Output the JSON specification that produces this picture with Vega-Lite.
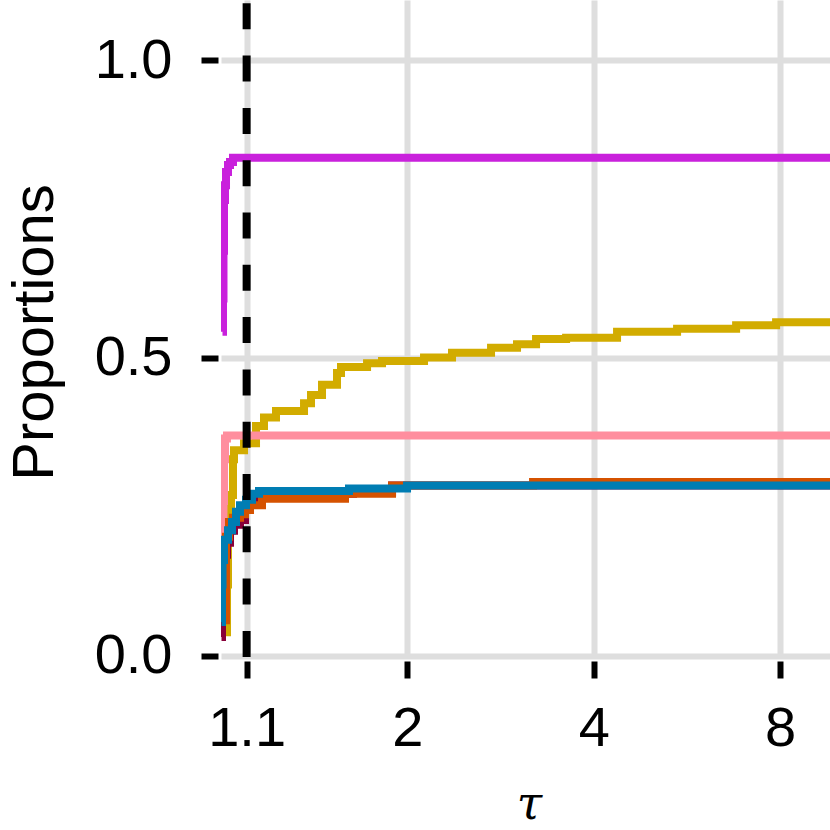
{
  "$schema": "https://vega.github.io/schema/vega-lite/v6.json",
  "width": 609,
  "height": 658,
  "autosize": {"type": "none"},
  "padding": {"left": 221, "top": 0, "right": 0, "bottom": 172},
  "background": "white",
  "config": {
    "view": {"stroke": null},
    "axis": {
      "domain": false,
      "gridColor": "#DEDEDE",
      "gridWidth": 6,
      "tickColor": "black",
      "tickWidth": 6,
      "tickSize": 17,
      "tickCap": "butt",
      "labelFont": "Liberation Sans",
      "labelFontSize": 56,
      "labelColor": "black",
      "titleColor": "black",
      "titleFontWeight": "normal"
    }
  },
  "datasets": {
    "profiles": [
      {"solver": "M", "tau": 1.0056, "prop": 0.544},
      {"solver": "M", "tau": 1.0075, "prop": 0.60},
      {"solver": "M", "tau": 1.0093, "prop": 0.68},
      {"solver": "M", "tau": 1.0112, "prop": 0.765},
      {"solver": "M", "tau": 1.0150, "prop": 0.79},
      {"solver": "M", "tau": 1.0188, "prop": 0.812},
      {"solver": "M", "tau": 1.0264, "prop": 0.824},
      {"solver": "M", "tau": 1.0341, "prop": 0.829},
      {"solver": "M", "tau": 1.0456, "prop": 0.836},
      {"solver": "M", "tau": 10, "prop": 0.836},
      {"solver": "G", "tau": 1.0188, "prop": 0.04},
      {"solver": "G", "tau": 1.0226, "prop": 0.12},
      {"solver": "G", "tau": 1.0264, "prop": 0.20},
      {"solver": "G", "tau": 1.0302, "prop": 0.24},
      {"solver": "G", "tau": 1.0379, "prop": 0.27},
      {"solver": "G", "tau": 1.0456, "prop": 0.33},
      {"solver": "G", "tau": 1.0495, "prop": 0.345},
      {"solver": "G", "tau": 1.0894, "prop": 0.357},
      {"solver": "G", "tau": 1.1391, "prop": 0.386},
      {"solver": "G", "tau": 1.1734, "prop": 0.400},
      {"solver": "G", "tau": 1.2270, "prop": 0.411},
      {"solver": "G", "tau": 1.3618, "prop": 0.424},
      {"solver": "G", "tau": 1.3976, "prop": 0.438},
      {"solver": "G", "tau": 1.4560, "prop": 0.455},
      {"solver": "G", "tau": 1.5395, "prop": 0.475},
      {"solver": "G", "tau": 1.5625, "prop": 0.485},
      {"solver": "G", "tau": 1.7215, "prop": 0.491},
      {"solver": "G", "tau": 1.8201, "prop": 0.495},
      {"solver": "G", "tau": 2.1278, "prop": 0.501},
      {"solver": "G", "tau": 2.3612, "prop": 0.509},
      {"solver": "G", "tau": 2.730, "prop": 0.517},
      {"solver": "G", "tau": 3.007, "prop": 0.523},
      {"solver": "G", "tau": 3.2274, "prop": 0.532},
      {"solver": "G", "tau": 3.609, "prop": 0.534},
      {"solver": "G", "tau": 4.362, "prop": 0.544},
      {"solver": "G", "tau": 5.453, "prop": 0.549},
      {"solver": "G", "tau": 6.792, "prop": 0.555},
      {"solver": "G", "tau": 7.881, "prop": 0.560},
      {"solver": "G", "tau": 10, "prop": 0.560},
      {"solver": "P", "tau": 1.0075, "prop": 0.17},
      {"solver": "P", "tau": 1.0093, "prop": 0.26},
      {"solver": "P", "tau": 1.0112, "prop": 0.33},
      {"solver": "P", "tau": 1.0150, "prop": 0.365},
      {"solver": "P", "tau": 1.0226, "prop": 0.370},
      {"solver": "P", "tau": 10, "prop": 0.370},
      {"solver": "R", "tau": 1.0019, "prop": 0.032},
      {"solver": "R", "tau": 1.0037, "prop": 0.10},
      {"solver": "R", "tau": 1.0075, "prop": 0.15},
      {"solver": "R", "tau": 1.0150, "prop": 0.17},
      {"solver": "R", "tau": 1.0226, "prop": 0.19},
      {"solver": "R", "tau": 1.0341, "prop": 0.21},
      {"solver": "R", "tau": 1.0495, "prop": 0.22},
      {"solver": "R", "tau": 1.0732, "prop": 0.228},
      {"solver": "R", "tau": 1.0934, "prop": 0.245},
      {"solver": "R", "tau": 1.1139, "prop": 0.262},
      {"solver": "R", "tau": 1.1348, "prop": 0.268},
      {"solver": "R", "tau": 1.1777, "prop": 0.272},
      {"solver": "R", "tau": 1.6338, "prop": 0.275},
      {"solver": "R", "tau": 1.8891, "prop": 0.286},
      {"solver": "R", "tau": 10, "prop": 0.286},
      {"solver": "O", "tau": 1.0075, "prop": 0.06},
      {"solver": "O", "tau": 1.0188, "prop": 0.20},
      {"solver": "O", "tau": 1.0302, "prop": 0.225},
      {"solver": "O", "tau": 1.0456, "prop": 0.232},
      {"solver": "O", "tau": 1.0732, "prop": 0.238},
      {"solver": "O", "tau": 1.0934, "prop": 0.245},
      {"solver": "O", "tau": 1.1139, "prop": 0.253},
      {"solver": "O", "tau": 1.1647, "prop": 0.264},
      {"solver": "O", "tau": 1.5859, "prop": 0.272},
      {"solver": "O", "tau": 1.8891, "prop": 0.286},
      {"solver": "O", "tau": 3.1917, "prop": 0.292},
      {"solver": "O", "tau": 10, "prop": 0.292},
      {"solver": "B", "tau": 1.0019, "prop": 0.057},
      {"solver": "B", "tau": 1.0037, "prop": 0.12},
      {"solver": "B", "tau": 1.0056, "prop": 0.161},
      {"solver": "B", "tau": 1.0112, "prop": 0.195},
      {"solver": "B", "tau": 1.0264, "prop": 0.211},
      {"solver": "B", "tau": 1.0418, "prop": 0.225},
      {"solver": "B", "tau": 1.0574, "prop": 0.242},
      {"solver": "B", "tau": 1.0732, "prop": 0.253},
      {"solver": "B", "tau": 1.0975, "prop": 0.262},
      {"solver": "B", "tau": 1.1222, "prop": 0.272},
      {"solver": "B", "tau": 1.1518, "prop": 0.277},
      {"solver": "B", "tau": 1.6097, "prop": 0.281},
      {"solver": "B", "tau": 1.9974, "prop": 0.286},
      {"solver": "B", "tau": 10, "prop": 0.286}
    ],
    "threshold": [{"tau": 1.1}]
  },
  "layer": [
    {
      "data": {"name": "profiles"},
      "mark": {"type": "line", "interpolate": "step-after", "strokeWidth": 8, "strokeCap": "butt", "clip": true},
      "encoding": {
        "x": {
          "field": "tau",
          "type": "quantitative",
          "scale": {"type": "log", "base": 2, "domain": [1, 9.63], "nice": false},
          "axis": {
            "values": [1.1, 2, 4, 8],
            "format": "~g",
            "offset": 3,
            "labelPadding": 23,
            "title": "τ",
            "titleFont": "DejaVu Serif",
            "titleFontStyle": "italic",
            "titleFontSize": 46,
            "titleBaseline": "alphabetic",
            "titleX": 308,
            "titleY": 157
          }
        },
        "y": {
          "field": "prop",
          "type": "quantitative",
          "scale": {"domain": [-0.0034, 1.1007], "nice": false, "zero": false},
          "axis": {
            "values": [0, 0.5, 1],
            "format": ".1f",
            "offset": 3,
            "labelPadding": 29,
            "title": "Proportions",
            "titleFont": "Liberation Sans",
            "titleFontSize": 58,
            "titleAngle": 270,
            "titleBaseline": "alphabetic",
            "titleAlign": "center",
            "titleX": -166,
            "titleY": 332
          }
        },
        "color": {
          "field": "solver",
          "type": "nominal",
          "scale": {
            "domain": ["M", "G", "P", "R", "O", "B"],
            "range": ["#C921DC", "#D2AC00", "#FF8E9E", "#880039", "#D55200", "#007DB3"]
          },
          "legend": null
        }
      }
    },
    {
      "data": {"name": "threshold"},
      "mark": {"type": "rule", "strokeWidth": 8, "color": "black", "strokeDash": [26, 26.3], "strokeDashOffset": 49},
      "encoding": {
        "x": {"field": "tau", "type": "quantitative"}
      }
    }
  ]
}
